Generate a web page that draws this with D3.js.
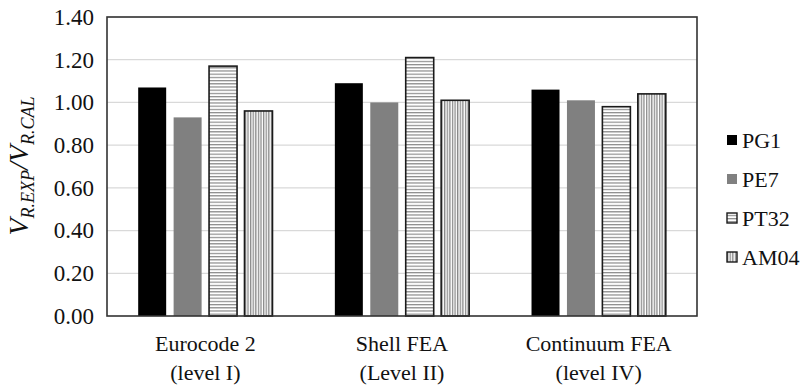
<!DOCTYPE html>
<html>
<head>
<meta charset="utf-8">
<script src="https://cdn.jsdelivr.net/npm/d3@7/dist/d3.min.js"></script>
<style>
  html, body { margin: 0; padding: 0; background: #fff; }
  svg text { font-family: 'Liberation Serif', 'Times New Roman', Times, 'DejaVu Serif', serif; }
</style>
</head>
<body>
<svg id="chart" width="811" height="390"></svg>
<script>
// Categories (two-line labels) and series values
const categories = ["Eurocode 2|(level I)", "Shell FEA|(Level II)", "Continuum FEA|(level IV)"];
const seriesNames = ["PG1", "PE7", "PT32", "AM04"];
const PG1  = [1.07, 1.09, 1.06];
const PE7  = [0.93, 1.00, 1.01];
const PT32 = [1.17, 1.21, 0.98];
const AM04 = [0.96, 1.01, 1.04];
const yTicks = [0, 0.2, 0.4, 0.6, 0.8, 1.0, 1.2, 1.4];

const seriesValues = { PG1, PE7, PT32, AM04 };

const svg = d3.select("#chart");
const plot = { left: 107, right: 697, top: 17, bottom: 316 };

// Pattern fills for the hatched series
const defs = svg.append("defs");
const hPat = defs.append("pattern").attr("id", "hstripe")
  .attr("patternUnits", "userSpaceOnUse").attr("width", 6).attr("height", 3.2);
hPat.append("rect").attr("width", 6).attr("height", 3.2).attr("fill", "#fff");
hPat.append("rect").attr("y", 0).attr("width", 6).attr("height", 1.2).attr("fill", "#8a8a8a");
const vPat = defs.append("pattern").attr("id", "vstripe")
  .attr("patternUnits", "userSpaceOnUse").attr("width", 2.6).attr("height", 6);
vPat.append("rect").attr("width", 2.6).attr("height", 6).attr("fill", "#fff");
vPat.append("rect").attr("x", 0).attr("width", 1.3).attr("height", 6).attr("fill", "#8a8a8a");

const style = {
  PG1:  { fill: "#000000", stroke: "none" },
  PE7:  { fill: "#808080", stroke: "none" },
  PT32: { fill: "url(#hstripe)", stroke: "#1a1a1a" },
  AM04: { fill: "url(#vstripe)", stroke: "#1a1a1a" }
};

const y = d3.scaleLinear().domain([0, 1.4]).range([plot.bottom, plot.top]);
const x0 = d3.scaleBand().domain(categories).range([plot.left, plot.right]).padding(0);
const x1 = d3.scaleBand().domain(seriesNames).range([0, x0.bandwidth()])
  .paddingInner(0.21).paddingOuter(0.88);

// Gridlines
svg.append("g").selectAll("line").data(yTicks.filter(d => d > 0)).join("line")
  .attr("x1", plot.left).attr("x2", plot.right)
  .attr("y1", d => y(d)).attr("y2", d => y(d))
  .attr("stroke", "#d9d9d9").attr("stroke-width", 1.2);

// Y axis tick labels
const yAxis = d3.axisLeft(y).tickValues(yTicks).tickFormat(d3.format(".2f")).tickSize(0).tickPadding(13);
const yg = svg.append("g").attr("transform", `translate(${plot.left},0)`).call(yAxis);
yg.attr("font-family", null).attr("font-size", null);
yg.select(".domain").remove();
yg.selectAll("text").attr("font-size", 23).attr("fill", "#111");

// Bars
const groups = svg.append("g").selectAll("g").data(categories).join("g")
  .attr("transform", d => `translate(${x0(d)},0)`);
groups.selectAll("rect")
  .data((c, i) => seriesNames.map(s => ({ s, v: seriesValues[s][i] })))
  .join("rect")
  .attr("x", d => x1(d.s))
  .attr("width", x1.bandwidth())
  .attr("y", d => y(d.v))
  .attr("height", d => plot.bottom - y(d.v))
  .attr("fill", d => style[d.s].fill)
  .attr("stroke", d => style[d.s].stroke)
  .attr("stroke-width", 1.6);

// Plot frame
svg.append("rect")
  .attr("x", plot.left).attr("y", plot.top)
  .attr("width", plot.right - plot.left).attr("height", plot.bottom - plot.top)
  .attr("fill", "none").attr("stroke", "#333").attr("stroke-width", 1.6);

// Category labels (two lines)
const xl = svg.append("g").selectAll("text").data(categories).join("text")
  .attr("text-anchor", "middle").attr("font-size", 22).attr("fill", "#111")
  .attr("transform", d => `translate(${x0(d) + x0.bandwidth() / 2},0)`);
xl.each(function (d) {
  const parts = d.split("|");
  const t = d3.select(this);
  t.append("tspan").attr("x", 0).attr("y", 351).text(parts[0]);
  t.append("tspan").attr("x", 0).attr("y", 380).text(parts[1]);
});

// Y axis title
const yt = svg.append("text")
  .attr("transform", "translate(28,166) rotate(-90)")
  .attr("text-anchor", "middle").attr("font-style", "italic").attr("fill", "#111")
  .attr("font-size", 28);
yt.append("tspan").text("V");
yt.append("tspan").attr("font-size", 18).attr("dy", 6).text("R.EXP");
yt.append("tspan").attr("dy", -6).text("/V");
yt.append("tspan").attr("font-size", 18).attr("dy", 6).text("R.CAL");

// Legend
const legendY = d3.scalePoint().domain(seriesNames).range([140, 257]);
const lg = svg.append("g").selectAll("g").data(seriesNames).join("g")
  .attr("transform", d => `translate(727,${legendY(d)})`);
lg.append("rect")
  .attr("x", 0).attr("y", -5).attr("width", 10).attr("height", 10)
  .attr("fill", d => style[d].fill)
  .attr("stroke", d => style[d].stroke).attr("stroke-width", 1.4);
lg.append("text").attr("x", 15).attr("y", 0).attr("dy", "0.35em")
  .attr("font-size", 22).attr("fill", "#111").text(d => d);
</script>
</body>
</html>
